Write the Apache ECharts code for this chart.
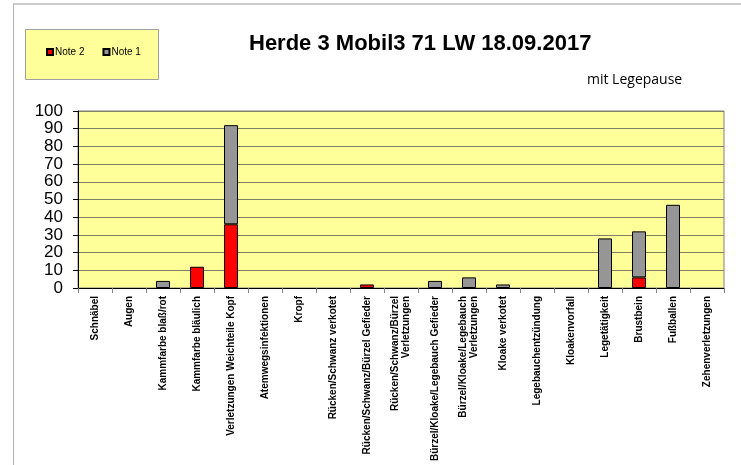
<!DOCTYPE html>
<html>
<head>
<meta charset="utf-8">
<script src="https://cdn.jsdelivr.net/npm/echarts@6/dist/echarts.min.js"></script>
<style>
    html, body { margin: 0; padding: 0; background: #fff; }
    #main { width: 741px; height: 465px; }
</style>
</head>
<body>
<div id="main"></div>
<script>
// Kategorien
var categories = ['Schnäbel', 'Augen', 'Kammfarbe blaß/rot', 'Kammfarbe bläulich',
    'Verletzungen Weichteile Kopf', 'Atemwegsinfektionen', 'Kropf', 'Rücken/Schwanz verkotet',
    'Rücken/Schwanz/Bürzel Gefieder', 'Rücken/Schwanz/Bürzel\nVerletzungen',
    'Bürzel/Kloake/Legebauch Gefieder', 'Bürzel/Kloake/Legebauch\nVerletzungen',
    'Kloake verkotet', 'Legebauchentzündung', 'Kloakenvorfall', 'Legetätigkeit',
    'Brustbein', 'Fußballen', 'Zehenverletzungen'];
// Werte
var note2 = [0, 0, 0, 12, 36, 0, 0, 0, 2, 0, 0, 0, 0, 0, 0, 0, 6, 0, 0];
var note1 = [0, 0, 4, 0, 56, 0, 0, 0, 0, 0, 4, 6, 2, 0, 0, 28, 26, 47, 0];
var yTicks = [0, 10, 20, 30, 40, 50, 60, 70, 80, 90, 100];

// Nullwerte nicht zeichnen
function ohneNull(arr) {
    return arr.map(function (v) { return v === 0 ? '-' : v; });
}

var chart = echarts.init(document.getElementById('main'), null, {renderer: 'canvas'});

var option = {
    animation: false,
    backgroundColor: '#fff',
    title: [{
        text: 'Herde 3 Mobil3 71 LW 18.09.2017',
        left: 249, top: 33, padding: 0,
        textStyle: {fontFamily: 'Liberation Sans', fontWeight: 'bold', fontSize: 22, color: '#000'}
    }, {
        text: 'mit Legepause',
        left: 587, top: 73, padding: 0,
        textStyle: {fontFamily: 'Open Sans', fontWeight: 'normal', fontSize: 14, color: '#000'}
    }],
    graphic: [
        // Rahmen
        {type: 'line', shape: {x1: 13, y1: 4, x2: 741, y2: 4}, style: {stroke: '#cccccc', lineWidth: 2}},
        {type: 'line', shape: {x1: 13.5, y1: 4, x2: 13.5, y2: 465}, style: {stroke: '#b4b4b4', lineWidth: 1}},
        // Legendenkasten
        {type: 'rect', shape: {x: 25.5, y: 29.5, width: 133, height: 50},
            style: {fill: '#ffff99', stroke: '#a0a0a0', lineWidth: 1}, z: -1}
    ],
    legend: {
        data: ['Note 2', 'Note 1'],
        left: 46, top: 47, padding: 0,
        itemWidth: 6, itemHeight: 6, itemGap: 18,
        icon: 'rect',
        textStyle: {fontFamily: 'Liberation Sans', fontSize: 10, color: '#000', padding: [0, 0, 0, -3]}
    },
    grid: {left: 78, right: 17, top: 111, bottom: 177, containLabel: false,
        show: true, backgroundColor: '#ffff99', borderColor: '#808080', borderWidth: 1},
    xAxis: {
        type: 'category',
        data: categories,
        axisLine: {lineStyle: {color: '#000', width: 1}},
        axisTick: {show: true, length: 5, lineStyle: {color: '#808080'}},
        axisLabel: {
            rotate: 90, interval: 0, margin: 8,
            fontFamily: 'Liberation Sans', fontWeight: 'bold', fontSize: 10, color: '#000',
            lineHeight: 11
        }
    },
    yAxis: {
        type: 'value',
        min: 0, max: 100, interval: 10,
        axisLine: {show: true, lineStyle: {color: '#000', width: 1}},
        axisTick: {show: true, length: 5, lineStyle: {color: '#000'}},
        splitLine: {lineStyle: {color: '#808066', width: 1}},
        axisLabel: {
            margin: 15,
            fontFamily: 'Liberation Sans', fontSize: 17, color: '#000',
            formatter: function (v) { return yTicks.indexOf(v) >= 0 ? String(v) : ''; }
        }
    },
    series: [{
        name: 'Note 2',
        type: 'bar',
        stack: 'noten',
        barWidth: 14,
        data: ohneNull(note2),
        itemStyle: {color: '#ff0000', borderColor: '#000', borderWidth: 1}
    }, {
        name: 'Note 1',
        type: 'bar',
        stack: 'noten',
        barWidth: 14,
        data: ohneNull(note1),
        itemStyle: {color: '#969696', borderColor: '#000', borderWidth: 1}
    }]
};

chart.setOption(option);
</script>
</body>
</html>
